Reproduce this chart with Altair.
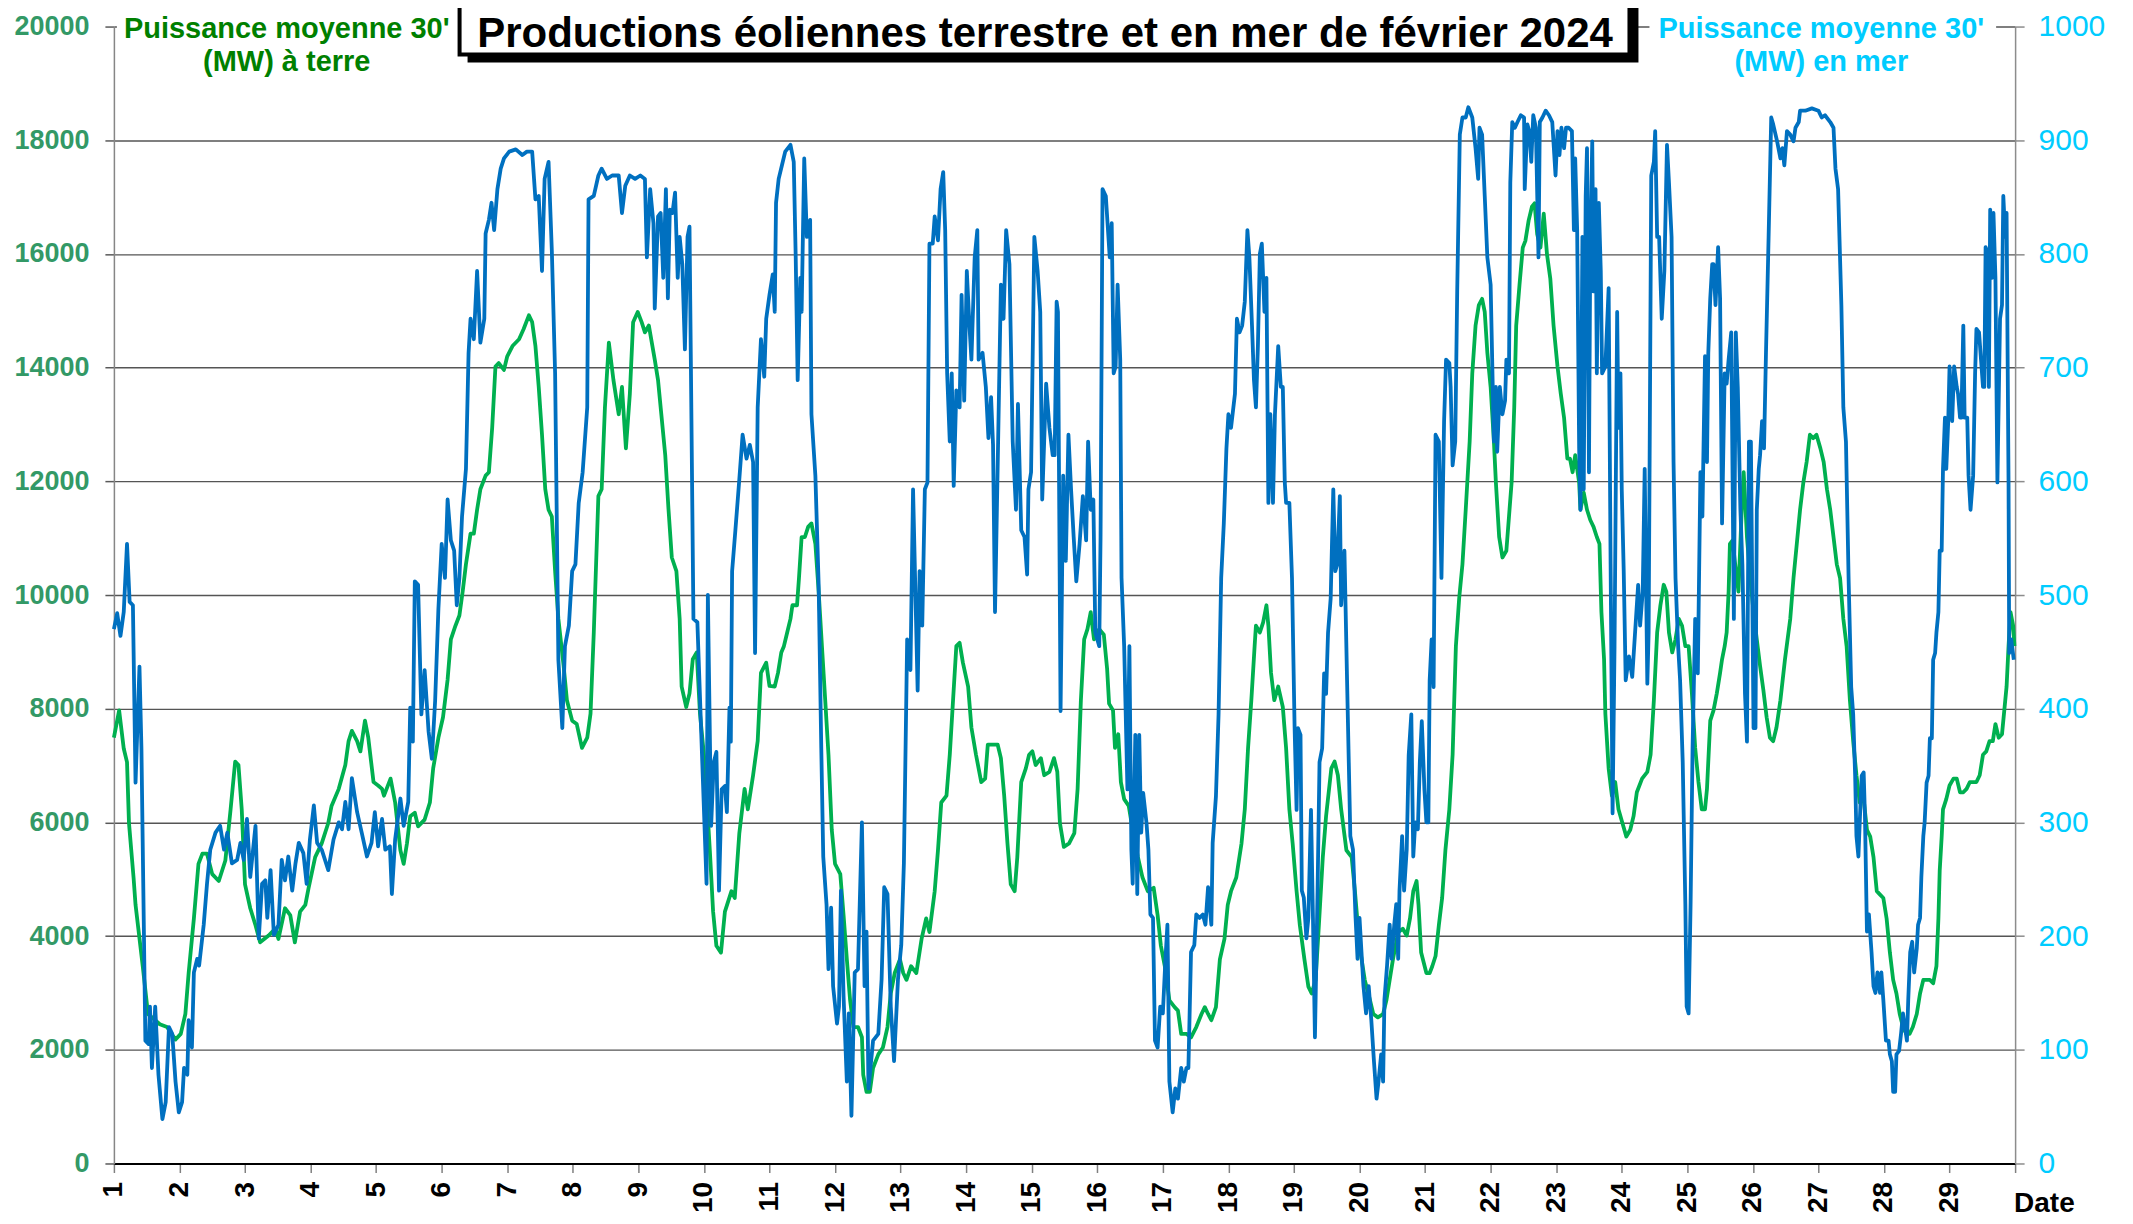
import altair as alt
import pandas as pd

# ---------------- data ----------------
green_day = [1.00,1.08,1.15,1.20,1.23,1.30,1.33,1.44,1.52,1.70,1.81,1.94,2.02,2.09,2.14,2.22,2.29,2.35,2.42,2.50,
2.60,2.70,2.78,2.85,2.90,2.95,3.00,3.08,3.16,3.23,3.36,3.46,3.51,3.61,3.69,3.76,3.84,3.92,3.97,4.07,
4.17,4.27,4.32,4.43,4.53,4.58,4.63,4.71,4.76,4.83,4.88,4.96,5.03,5.09,5.12,5.22,5.29,5.37,5.42,5.47,
5.52,5.59,5.64,5.74,5.82,5.87,5.95,6.02,6.09,6.14,6.21,6.27,6.32,6.37,6.44,6.49,6.54,6.59,6.67,6.72,
6.77,6.82,6.87,6.95,7.00,7.08,7.18,7.25,7.33,7.38,7.43,7.48,7.53,7.58,7.63,7.68,7.73,7.78,7.86,7.91,
7.99,8.06,8.14,8.22,8.27,8.32,8.39,8.44,8.49,8.55,8.62,8.70,8.75,8.81,8.87,8.92,8.99,9.05,9.10,9.16,
9.25,9.30,9.35,9.41,9.46,9.51,9.58,9.63,9.66,9.73,9.78,9.83,9.89,9.94,10.01,10.09,10.14,10.19,10.26,10.32,
10.42,10.47,10.54,10.62,10.67,10.75,10.82,10.87,10.95,11.00,11.08,11.13,11.18,11.22,11.27,11.32,11.35,11.42,11.45,11.49,
11.54,11.59,11.64,11.70,11.75,11.80,11.85,11.90,11.95,12.00,12.08,12.13,12.18,12.23,12.28,12.35,12.41,12.43,12.48,12.53,
12.58,12.66,12.73,12.80,12.85,12.91,12.99,13.04,13.09,13.16,13.24,13.32,13.39,13.44,13.52,13.57,13.62,13.70,13.75,13.80,
13.85,13.90,13.95,14.03,14.08,14.15,14.23,14.29,14.33,14.41,14.48,14.53,14.58,14.63,14.68,14.74,14.78,14.84,14.91,14.96,
15.01,15.06,15.14,15.19,15.27,15.34,15.39,15.43,15.49,15.57,15.65,15.70,15.75,15.80,15.85,15.90,15.95,16.03,16.10,16.15,
16.18,16.24,16.27,16.32,16.36,16.41,16.48,16.54,16.62,16.69,16.77,16.86,16.92,16.97,17.03,17.10,17.18,17.23,17.28,17.36,
17.43,17.51,17.59,17.64,17.69,17.74,17.81,17.87,17.94,17.99,18.04,18.12,18.20,18.25,18.30,18.35,18.40,18.42,18.48,18.53,
18.58,18.61,18.65,18.70,18.76,18.83,18.88,18.93,18.98,19.04,19.09,19.16,19.22,19.27,19.33,19.38,19.44,19.49,19.57,19.62,
19.67,19.72,19.80,19.88,19.93,20.00,20.08,20.16,20.21,20.28,20.36,20.41,20.46,20.51,20.59,20.66,20.72,20.77,20.82,20.87,
20.90,20.94,21.02,21.07,21.11,21.16,21.21,21.26,21.31,21.37,21.42,21.47,21.52,21.57,21.62,21.68,21.72,21.77,21.82,21.87,
21.91,21.95,22.00,22.05,22.08,22.13,22.18,22.24,22.28,22.32,22.36,22.39,22.44,22.49,22.53,22.58,22.63,22.67,22.71,22.76,
22.81,22.86,22.91,22.96,23.02,23.07,23.12,23.17,23.21,23.25,23.29,23.35,23.37,23.42,23.47,23.52,23.57,23.62,23.66,23.69,
23.73,23.75,23.80,23.85,23.90,23.95,24.01,24.07,24.13,24.18,24.23,24.31,24.39,24.44,24.49,24.54,24.59,24.64,24.68,24.72,
24.77,24.82,24.87,24.92,24.97,25.02,25.07,25.12,25.17,25.22,25.27,25.30,25.35,25.40,25.45,25.50,25.53,25.57,25.60,25.63,
25.65,25.69,25.73,25.78,25.83,25.86,25.91,25.96,26.01,26.06,26.11,26.16,26.21,26.26,26.31,26.36,26.42,26.49,26.57,26.62,
26.67,26.72,26.77,26.82,26.87,26.92,26.97,27.03,27.08,27.13,27.18,27.23,27.28,27.33,27.38,27.43,27.48,27.53,27.58,27.63,
27.69,27.74,27.79,27.84,27.89,27.94,27.99,28.04,28.09,28.14,28.19,28.24,28.29,28.34,28.39,28.44,28.50,28.55,28.60,28.65,
28.70,28.75,28.80,28.83,28.85,28.88,28.90,28.95,29.00,29.06,29.11,29.16,29.21,29.26,29.31,29.36,29.41,29.46,29.51,29.56,
29.61,29.66,29.70,29.75,29.80,29.84,29.87,29.90,29.93,29.97,29.99]
green_mw = [7490,7970,7300,7060,5990,5030,4550,3470,2630,2450,2400,2180,2280,2630,3350,4310,5270,5450,5450,5090,
4970,5330,6230,7070,7010,6230,4910,4490,4190,3890,4010,4130,3950,4490,4370,3890,4430,4550,4850,5390,
5630,5990,6290,6590,7010,7430,7610,7430,7250,7790,7490,6710,6650,6590,6470,6770,6350,5510,5270,5630,
6110,6170,5930,6050,6350,6950,7490,7850,8510,9220,9460,9640,10060,10540,11080,11080,11500,11860,12100,12160,
12940,14020,14080,13960,14200,14380,14500,14680,14920,14800,14380,13660,12820,11860,11500,11380,10420,9580,8750,8150,
7790,7730,7310,7490,7910,9340,11740,11860,13300,14440,13780,13180,13660,12580,13540,14800,14980,14800,14620,14740,
14140,13780,13180,12460,11500,10660,10420,9580,8390,8030,8270,8870,8990,7910,7070,5510,4430,3830,3710,4430,
4790,4670,5810,6590,6230,6830,7430,8630,8810,8400,8390,8630,8990,9100,9340,9580,9820,9820,10300,11020,
11020,11200,11260,10900,10060,9100,8150,7190,5870,5270,5090,4370,3590,2870,2400,2400,2220,1560,1260,1260,
1680,1920,2040,2400,2990,3350,3590,3350,3230,3470,3350,3950,4310,4070,4790,5510,6350,6470,7190,8150,
9100,9160,8810,8390,7670,7190,6710,6770,7370,7370,7370,7130,6470,5630,4910,4790,5390,6710,6950,7190,
7250,7010,7130,6830,6890,7130,6890,5990,5570,5630,5810,6590,8150,9220,9400,9700,9220,9400,9300,8700,
8090,7970,7310,7550,6710,6410,6290,5870,5390,5030,4790,4850,4370,3830,3470,2870,2750,2690,2280,2280,
2220,2400,2630,2750,2630,2520,2750,3590,3950,4550,4790,5030,5630,6230,7310,8150,9100,9460,9340,9520,
9820,9460,8630,8150,8390,8030,7310,6230,5630,4790,4190,3590,3110,2990,3230,4190,5390,6110,6950,7070,
6830,6230,5510,5390,4790,3830,3230,2870,2630,2570,2630,2870,3230,3590,4070,4130,4010,4310,4790,4970,
4550,3710,3350,3350,3470,3650,4190,4670,5510,6230,7190,9100,9940,10540,11500,12700,13900,14740,15100,15210,
14980,14260,13660,12700,11980,11020,10660,10780,11380,11980,13300,14740,15450,16110,16230,16590,16830,16890,16350,16110,
16710,15990,15570,14740,14020,13540,13120,12400,12400,12160,12460,11980,11500,11800,11500,11320,11200,11020,10900,9700,
8870,7910,6950,6470,6710,6230,5990,5750,5870,6110,6530,6770,6890,7190,8150,9340,9820,10180,10060,9340,
8990,9220,9580,9460,9100,9100,8270,7310,6710,6230,6230,6590,7790,7970,8270,8630,8870,9100,9340,10060,
10900,10960,10540,10060,11500,12160,11020,10300,9700,9220,8750,8330,7850,7490,7430,7670,8150,8870,9580,10300,
10900,11500,11980,12340,12820,12760,12820,12580,12340,11860,11500,11020,10540,10300,9580,9100,8150,7430,6830,6350,
6410,5870,5750,5390,4790,4730,4670,4310,3710,3230,2990,2630,2400,2280,2280,2400,2630,2990,3230,3230,
3230,3170,3470,4310,5150,5750,6230,6410,6650,6770,6770,6530,6530,6590,6710,6710,6710,6830,7190,7250,
7430,7430,7730,7490,7550,8030,8390,9100,9700,9460,9100]

blue_day = [1.00,1.05,1.10,1.15,1.20,1.24,1.29,1.33,1.39,1.42,1.48,1.53,1.55,1.58,1.63,1.68,1.74,1.79,1.84,1.89,
1.94,1.99,2.04,2.07,2.12,2.14,2.19,2.22,2.27,2.30,2.37,2.42,2.47,2.55,2.62,2.68,2.73,2.80,2.88,2.93,
2.98,3.03,3.08,3.16,3.21,3.26,3.31,3.34,3.39,3.44,3.51,3.56,3.61,3.66,3.72,3.77,3.82,3.89,3.94,3.99,
4.05,4.10,4.17,4.27,4.35,4.43,4.48,4.53,4.58,4.63,4.71,4.78,4.86,4.93,4.98,5.03,5.09,5.14,5.21,5.24,
5.29,5.37,5.42,5.49,5.52,5.56,5.59,5.64,5.69,5.74,5.80,5.85,5.90,5.95,6.00,6.05,6.09,6.14,6.19,6.23,
6.27,6.31,6.37,6.41,6.44,6.49,6.54,6.59,6.65,6.67,6.72,6.76,6.80,6.85,6.90,6.95,7.03,7.13,7.23,7.30,
7.38,7.43,7.48,7.53,7.57,7.63,7.68,7.73,7.78,7.84,7.88,7.94,7.99,8.04,8.09,8.15,8.22,8.24,8.32,8.39,
8.44,8.52,8.60,8.70,8.75,8.80,8.87,8.95,9.03,9.10,9.13,9.18,9.23,9.25,9.30,9.34,9.38,9.42,9.45,9.48,
9.52,9.56,9.60,9.63,9.67,9.71,9.75,9.78,9.84,9.90,9.96,10.04,10.06,10.11,10.15,10.19,10.23,10.27,10.32,10.35,
10.39,10.41,10.43,10.48,10.54,10.59,10.65,10.70,10.75,10.78,10.82,10.87,10.92,10.95,11.00,11.05,11.08,11.10,11.14,11.19,
11.24,11.32,11.37,11.40,11.43,11.47,11.49,11.53,11.57,11.62,11.64,11.70,11.75,11.79,11.82,11.87,11.90,11.94,11.97,12.03,
12.06,12.09,12.13,12.18,12.21,12.25,12.30,12.35,12.41,12.45,12.48,12.51,12.58,12.66,12.71,12.75,12.80,12.85,12.90,12.96,
13.01,13.05,13.10,13.15,13.19,13.26,13.29,13.33,13.37,13.41,13.44,13.49,13.52,13.57,13.61,13.65,13.68,13.71,13.75,13.78,
13.81,13.85,13.90,13.93,13.97,14.01,14.05,14.08,14.13,14.17,14.19,14.25,14.30,14.34,14.38,14.41,14.44,14.48,14.53,14.57,
14.61,14.66,14.71,14.76,14.79,14.84,14.89,14.93,14.95,14.99,15.04,15.09,15.13,15.16,15.22,15.27,15.32,15.35,15.38,15.40,
15.44,15.48,15.52,15.56,15.60,15.64,15.68,15.73,15.78,15.83,15.86,15.90,15.94,15.97,16.03,16.05,16.08,16.13,16.19,16.22,
16.25,16.28,16.31,16.35,16.37,16.41,16.46,16.49,16.52,16.54,16.58,16.61,16.64,16.67,16.70,16.75,16.78,16.81,16.85,16.88,
16.92,16.96,17.00,17.04,17.07,17.10,17.15,17.19,17.23,17.28,17.32,17.36,17.39,17.43,17.48,17.51,17.56,17.61,17.65,17.69,
17.74,17.76,17.81,17.85,17.89,17.93,17.97,18.00,18.04,18.07,18.10,18.13,18.17,18.21,18.25,18.29,18.32,18.36,18.39,18.42,
18.45,18.48,18.51,18.55,18.58,18.61,18.64,18.68,18.71,18.76,18.80,18.83,18.86,18.88,18.93,18.97,19.01,19.04,19.06,19.10,
19.12,19.15,19.19,19.22,19.26,19.29,19.32,19.36,19.39,19.43,19.46,19.49,19.52,19.56,19.60,19.63,19.66,19.70,19.72,19.77,
19.81,19.86,19.90,19.94,19.97,20.00,20.03,20.06,20.10,20.14,20.18,20.22,20.26,20.29,20.33,20.36,20.38,20.42,20.46,20.49,
20.53,20.56,20.59,20.61,20.65,20.68,20.72,20.75,20.79,20.82,20.85,20.89,20.92,20.95,20.99,21.02,21.05,21.07,21.10,21.13,
21.16,21.21,21.25,21.29,21.32,21.37,21.39,21.42,21.46,21.49,21.53,21.57,21.62,21.66,21.72,21.77,21.81,21.83,21.87,21.91,
21.95,22.00,22.03,22.05,22.08,22.10,22.14,22.18,22.22,22.24,22.28,22.30,22.33,22.37,22.41,22.46,22.51,22.52,22.56,22.59,
22.62,22.65,22.69,22.73,22.75,22.79,22.84,22.89,22.94,22.99,23.02,23.05,23.08,23.12,23.15,23.19,23.24,23.27,23.29,23.32,
23.35,23.37,23.40,23.42,23.45,23.47,23.50,23.52,23.55,23.57,23.60,23.62,23.65,23.68,23.70,23.75,23.80,23.83,23.86,23.89,
23.93,23.95,23.98,24.00,24.03,24.06,24.11,24.16,24.21,24.25,24.28,24.32,24.35,24.39,24.41,24.45,24.49,24.51,24.54,24.57,
24.61,24.65,24.69,24.72,24.76,24.79,24.82,24.86,24.89,24.93,24.97,24.99,25.02,25.05,25.08,25.12,25.16,25.20,25.23,25.27,
25.30,25.32,25.35,25.38,25.40,25.43,25.47,25.50,25.53,25.57,25.60,25.63,25.67,25.71,25.74,25.77,25.81,25.84,25.88,25.91,
25.94,25.97,26.01,26.04,26.06,26.09,26.11,26.14,26.17,26.20,26.24,26.28,26.31,26.37,26.42,26.45,26.48,26.52,26.57,26.62,
26.65,26.70,26.72,26.80,26.90,27.00,27.05,27.10,27.18,27.23,27.26,27.30,27.35,27.38,27.42,27.46,27.50,27.53,27.56,27.58,
27.61,27.63,27.66,27.69,27.71,27.74,27.77,27.81,27.84,27.87,27.90,27.94,27.96,27.99,28.03,28.07,28.09,28.12,28.14,28.17,
28.19,28.23,28.26,28.29,28.32,28.35,28.37,28.40,28.43,28.46,28.50,28.52,28.55,28.57,28.60,28.62,28.65,28.68,28.70,28.73,
28.75,28.78,28.80,28.83,28.85,28.88,28.90,28.93,28.95,28.98,29.00,29.04,29.07,29.11,29.13,29.16,29.18,29.21,29.23,29.27,
29.29,29.32,29.36,29.39,29.41,29.45,29.48,29.51,29.53,29.55,29.57,29.60,29.62,29.65,29.67,29.70,29.73,29.77,29.80,29.82,
29.85,29.87,29.90,29.91,29.94,29.98]
blue_mw = [470,484,464,485,545,494,491,335,437,365,108,105,138,84,138,78,39,54,120,114,
72,45,54,84,78,126,102,168,180,174,210,246,276,291,297,276,291,264,267,282,
267,303,252,297,198,246,249,216,258,201,210,267,249,270,240,264,282,273,246,285,
315,282,276,258,285,300,294,318,294,339,309,291,270,282,309,279,303,276,279,237,
285,321,297,318,401,371,512,509,395,434,380,356,407,488,545,515,584,548,539,491,
515,569,611,713,743,725,785,722,743,818,830,845,821,857,875,884,890,892,887,890,
890,848,851,785,866,881,803,695,443,383,455,473,521,527,581,608,665,848,851,869,
875,866,869,869,836,860,869,866,869,866,797,857,827,752,833,836,779,857,761,839,
836,854,779,815,791,716,815,824,479,476,377,246,500,297,353,362,240,329,332,309,
401,371,521,557,602,641,620,632,617,449,665,725,692,743,764,782,749,845,866,878,
890,896,881,797,689,779,749,884,815,830,659,605,509,365,270,228,171,225,156,123,
138,240,147,72,132,42,168,171,300,156,204,66,108,114,162,243,237,138,90,162,
192,264,461,434,593,416,521,473,593,599,809,809,833,812,857,872,821,695,635,695,
596,680,665,764,671,785,737,707,797,821,707,713,683,638,674,632,485,611,773,743,
821,791,635,575,668,557,551,518,593,608,815,785,749,584,686,647,623,623,758,749,
398,605,530,641,593,551,512,545,587,548,635,575,584,467,455,551,857,851,797,827,
695,701,773,707,515,455,329,455,276,246,377,237,377,291,326,300,276,219,216,108,
102,138,132,180,210,72,45,66,57,84,72,84,84,186,192,219,216,219,210,243,
210,282,323,395,515,563,629,659,647,662,677,743,731,737,758,821,797,737,689,665,
719,800,809,749,779,581,659,581,659,719,683,683,599,581,581,515,383,311,383,377,
240,234,198,216,311,216,111,240,353,365,431,413,467,497,593,521,527,587,491,539,
425,288,276,216,180,216,186,156,132,156,126,90,57,72,96,72,144,174,210,180,
210,228,180,240,288,240,276,359,395,270,300,294,353,389,329,300,300,425,461,419,
641,635,515,653,707,704,683,614,635,767,905,920,920,929,920,893,866,911,905,851,
797,773,689,635,683,626,683,659,671,707,695,863,916,911,916,922,920,857,914,908,
881,922,911,797,916,920,926,922,916,869,908,887,911,893,911,911,908,821,884,821,
629,575,815,593,851,893,608,809,899,767,857,695,845,785,695,701,770,527,308,455,
749,647,695,593,521,425,446,428,473,509,473,503,611,422,467,869,881,908,815,815,
743,785,896,863,815,617,515,455,425,353,228,138,132,228,365,479,431,608,569,710,
617,713,761,791,791,755,806,761,563,695,686,707,731,479,731,683,575,527,413,371,
635,635,383,383,575,611,623,653,629,713,815,920,914,899,884,893,878,908,905,899,
911,916,926,926,928,926,920,922,916,911,875,857,755,665,635,515,419,395,341,288,
270,300,341,344,305,204,219,186,156,150,168,150,168,144,108,108,96,90,63,63,
96,99,114,132,120,108,144,186,195,168,189,210,216,252,288,300,335,341,374,374,
443,449,467,485,539,539,611,656,611,653,701,653,701,683,677,656,656,737,656,656,
605,575,605,695,734,731,707,683,683,806,803,683,839,779,836,779,599,743,755,851,
815,836,599,449,461,443]

x_ticks = list(range(1, 31))
left_ticks = list(range(0, 20001, 2000))
right_ticks = list(range(0, 1001, 100))

title_text = "Productions éoliennes terrestre et en mer de février 2024"
left_title = ["Puissance moyenne 30'", "(MW) à terre"]
right_title = ["Puissance moyenne 30'", "(MW) en mer"]
x_title = "Date"

# ---------------- chart ----------------
W, H = 1903, 1138
FONT = "Liberation Sans"
GREEN = "#00B050"
BLUE = "#0070C0"

green_df = pd.DataFrame({"day": green_day, "mw": green_mw})
blue_df = pd.DataFrame({"day": blue_day, "mw": blue_mw})

x_enc = alt.X(
    "day:Q",
    scale=alt.Scale(domain=[1, 30], nice=False, zero=False),
    axis=alt.Axis(
        values=x_ticks, labelExpr="datum.value == 30 ? '' : datum.label",
        labelAngle=270, labelFont=FONT, labelFontSize=28, labelFontWeight="bold",
        labelColor="black", labelPadding=9, labelFlush=False, labelOverlap=False,
        tickSize=9, tickColor="#808080", tickWidth=1.5,
        domainColor="black", domainWidth=2, grid=False, title="",
    ),
)

green = alt.Chart(green_df).mark_line(color=GREEN, strokeWidth=3.8, strokeJoin="round").encode(
    x=x_enc,
    y=alt.Y(
        "mw:Q",
        scale=alt.Scale(domain=[0, 20000], nice=False),
        axis=alt.Axis(
            orient="left", values=left_ticks, format="d",
            labelFont=FONT, labelFontSize=27, labelFontWeight="bold", labelColor="#339966",
            labelPadding=16, tickSize=9, tickColor="#595959", tickWidth=1.5,
            domainColor="#868686", domainWidth=1.5,
            grid=True, gridColor="#555555", gridWidth=1.4, title="",
        ),
    ),
)

blue = alt.Chart(blue_df).mark_line(color=BLUE, strokeWidth=3.8, strokeJoin="round").encode(
    x=x_enc,
    y=alt.Y(
        "mw:Q",
        scale=alt.Scale(domain=[0, 1000], nice=False),
        axis=alt.Axis(
            orient="right", values=right_ticks, format="d",
            labelFont=FONT, labelFontSize=30, labelFontWeight="normal", labelColor="#00CCFF",
            labelPadding=14, tickSize=9, tickColor="#8c8c8c", tickWidth=1.5,
            domainColor="#8c8c8c", domainWidth=1.5, grid=False, title="",
        ),
    ),
)

one = pd.DataFrame({"k": [0]})

def rect(x1, x2, y1, y2, fill, stroke=None, sw=0):
    kw = dict(fill=fill)
    if stroke:
        kw.update(stroke=stroke, strokeWidth=sw)
    return alt.Chart(one).mark_rect(**kw).encode(
        x=alt.value(x1), x2=alt.value(x2), y=alt.value(y1), y2=alt.value(y2)
    )

def text(s, x, y, size, color, align="center", weight="bold"):
    return alt.Chart(one).mark_text(
        font=FONT, fontSize=size, fontWeight=weight, color=color,
        align=align, baseline="alphabetic",
    ).encode(x=alt.value(x), y=alt.value(y), text=alt.value(s))

deco = [
    rect(3, 345, -20, 52, "white"),
    rect(1537, 1884, -20, 52, "white"),
    rect(354, 1526, -40, 36, "black"),
    rect(346, 1517, -40, 28, "white", "black", 4),
    text(title_text, 932, 20, 42, "black"),
    text(left_title[0], 173, 11, 29, "#008000"),
    text(left_title[1], 173, 44, 29, "#008000"),
    text(right_title[0], 1709, 11, 29, "#00CCFF"),
    text(right_title[1], 1709, 44, 29, "#00CCFF"),
    text(x_title, 1902, 1187, 28, "black", align="left"),
]

chart = alt.layer(green, blue, *deco).resolve_scale(y="independent").properties(
    width=W, height=H,
    autosize=alt.AutoSizeParams(type="none"),
    padding={"left": 106, "top": 18, "right": 110, "bottom": 58},
    background="white",
).configure_view(strokeWidth=0)

chart.save("out.html", embed_options={"renderer": "svg", "actions": False})
